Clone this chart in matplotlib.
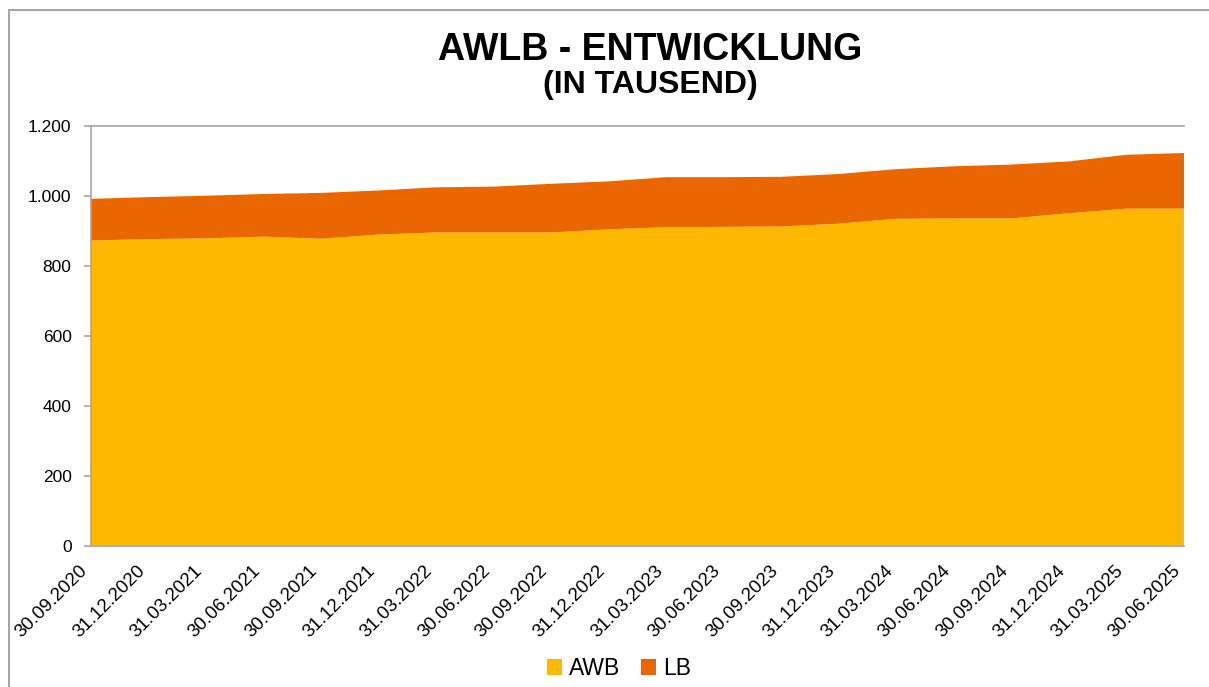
import matplotlib
matplotlib.use("Agg")
import matplotlib.pyplot as plt
from matplotlib.patches import Patch, Rectangle
from matplotlib.ticker import FuncFormatter

plt.rcParams['font.family'] = ['Liberation Sans', 'DejaVu Sans']

# Data (in thousands)
dates = ['30.09.2020', '31.12.2020', '31.03.2021', '30.06.2021', '30.09.2021',
         '31.12.2021', '31.03.2022', '30.06.2022', '30.09.2022', '31.12.2022',
         '31.03.2023', '30.06.2023', '30.09.2023', '31.12.2023', '31.03.2024',
         '30.06.2024', '30.09.2024', '31.12.2024', '31.03.2025', '30.06.2025']
awb = [872, 876, 878, 883, 877, 889, 895, 895, 895, 904,
       910, 911, 912, 920, 934, 935, 935, 950, 963, 963]
lb = [119, 120, 122, 122, 131, 126, 129, 131, 139, 137,
      143, 142, 142, 142, 142, 149, 154, 148, 154, 159]

col_awb = '#FFB800'
col_lb = '#EA6600'
grey = '#A6A6A6'

fig = plt.figure(figsize=(12.09, 6.87), dpi=100)
ax = fig.add_axes([0.0753, 0.2057, 0.9793 - 0.0753, 0.817 - 0.2057])

x = list(range(len(dates)))
ax.stackplot(x, awb, lb, colors=[col_awb, col_lb], linewidth=0)

ax.set_xlim(0, len(dates) - 1)
ax.set_ylim(0, 1200)
ax.set_yticks(range(0, 1201, 200))
ax.yaxis.set_major_formatter(FuncFormatter(lambda v, p: f'{int(v):,}'.replace(',', '.')))
ax.set_xticks(x)
ax.set_xticklabels(dates, rotation=45, ha='right')

# only the top gridline shows above the areas
ax.axhline(1200, color=grey, linewidth=1.2, clip_on=False)
for s in ['top', 'right']:
    ax.spines[s].set_visible(False)
for s in ['left', 'bottom']:
    ax.spines[s].set_color(grey)
    ax.spines[s].set_linewidth(1.2)
ax.tick_params(axis='y', length=5, width=1.2, color=grey, pad=9, labelsize=12.5)
ax.tick_params(axis='x', length=0, pad=12, labelsize=13.5)

fig.text(0.5376, 0.9127, 'AWLB - ENTWICKLUNG', ha='center', va='baseline',
         fontsize=27, fontweight='bold')
fig.text(0.5376, 0.8646, '(IN TAUSEND)', ha='center', va='baseline',
         fontsize=23, fontweight='bold')

handles = [Patch(facecolor=col_awb, label='AWB'), Patch(facecolor=col_lb, label='LB')]
fig.legend(handles=handles, loc='center', bbox_to_anchor=(0.512, 0.027), ncol=2,
           frameon=False, fontsize=16.5, handlelength=0.65, handleheight=0.65,
           handletextpad=0.3, columnspacing=0.9)

# outer chart border
fig.patches.append(Rectangle((9 / 1209, -0.05), 1.05, 1 - 10 / 687 + 0.05,
                             transform=fig.transFigure, fill=False,
                             edgecolor=grey, linewidth=1.5))

fig.savefig('out.png', dpi=100)
